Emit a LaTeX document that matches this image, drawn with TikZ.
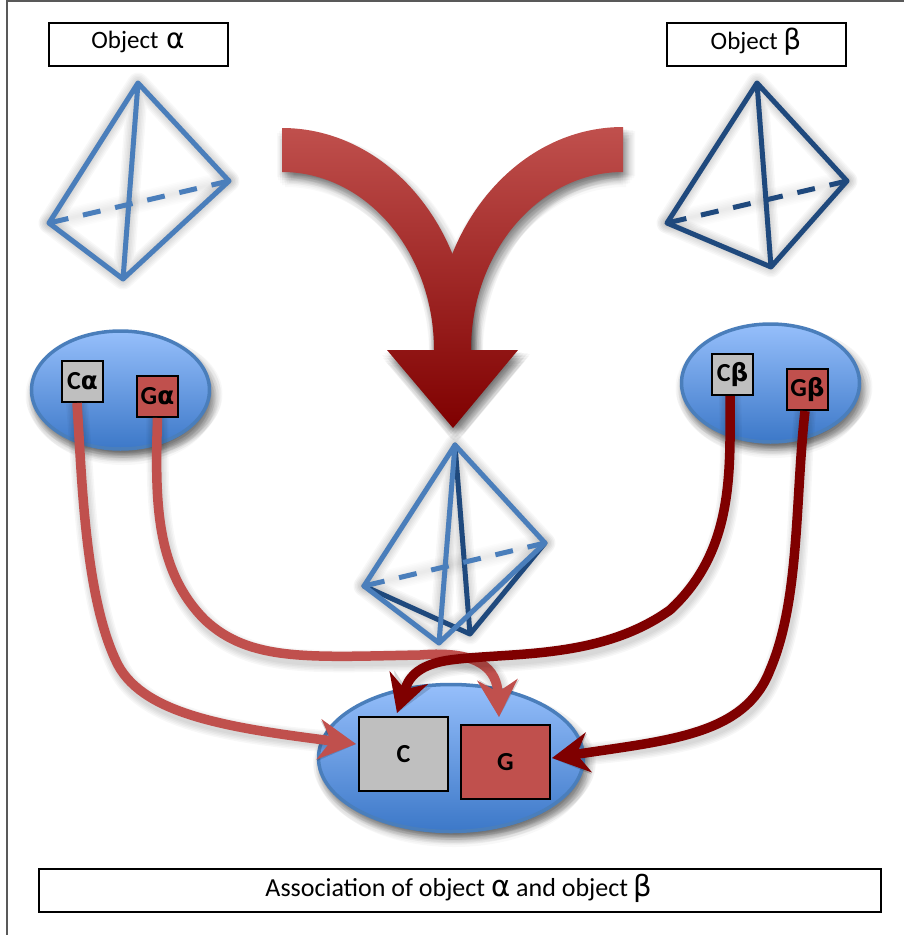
\documentclass[tikz,border=0pt]{standalone}
\usepackage{fontspec}
\setmainfont{Carlito}
\newfontfamily\gk{DejaVu Sans}[Scale=1.12]
\newfontfamily\gkb{DejaVu Sans}[Scale=0.95]
\usetikzlibrary{arrows.meta,shapes.geometric,calc}
\definecolor{tblue}{HTML}{4A7EBB}
\definecolor{tdark}{HTML}{1F497D}
\definecolor{cred}{HTML}{C0504D}
\definecolor{dred}{HTML}{7F0000}
\definecolor{egray}{HTML}{BFBFBF}
\definecolor{etop}{HTML}{96BFFB}
\definecolor{ebot}{HTML}{3C78C8}
% directional soft shadow: the same shape filled at a fan of small offsets
\newcommand{\softshadow}[2]{% opacity step, path
  \foreach \dx/\dy in {-5/5,-4/8,-3/3,-2/6,-2/11,-1/2,0/4,0/8,0/13,1/1,1/6,2/3,2/10,3/6,3/15,4/2,4/9,5/5,5/12,6/3,6/8,7/11,8/5,9/8,10/3,11/6,12/4}{
    \path[fill=black,opacity=#1,shift={(\dx,\dy)}] #2;
  }}
\newcommand{\softstroke}[2]{% opacity step, path
  \foreach \w in {3,6,...,21}{
    \path[draw=black,opacity=#1,line width=\w pt,line cap=round,line join=round,shift={(4,8)}] #2;
  }}
\newcommand{\softconn}[2]{%
  \foreach \w in {10,13,16,19,22}{
    \path[draw=black,opacity=.03,line width=\w pt,shift={(2,5)},-{Stealth[length=37pt,width=40pt,inset=12pt]}] #2;
  }
  \draw[#1,line width=9.5pt,-{Stealth[length=37pt,width=40pt,inset=12pt]}] #2;}
\tikzset{
  titlebox/.style={draw=black,line width=2pt,fill=white,inner sep=0pt,outer sep=0pt},
  titletext/.style={anchor=center,font=\fontsize{25}{30}\selectfont},
  blob/.style={ellipse,draw=tblue,line width=3.5pt,top color=etop,bottom color=ebot,inner sep=0pt,outer sep=0pt},
  cbox/.style={draw=black,line width=2pt,fill=egray,font=\bfseries\fontsize{26}{28}\selectfont,inner sep=0pt,outer sep=1pt},
  gbox/.style={draw=black,line width=2pt,fill=cred,font=\bfseries\fontsize{26}{28}\selectfont,inner sep=0pt,outer sep=1pt},
  tedge/.style={line width=5pt,line cap=round,line join=round},
  tdash/.style={line width=5pt,dash pattern=on 18pt off 15pt},
}
\begin{document}
\begin{tikzpicture}[x=1pt,y=-1pt]
\useasboundingbox (0,0) rectangle (904,935);
\fill[white] (0,0) rectangle (904,935);
\draw[line width=1.2pt,black!65] (904,1) -- (7,1) -- (7,935);

% title boxes
\node[titlebox,minimum width=179pt,minimum height=43pt] (oa) at (138,44) {};
\node[titletext] (oat) at (138,42) {Object\hspace{2pt} {\gk α}};
\node[titlebox,minimum width=179pt,minimum height=43pt] (ob) at (756,44) {};
\node[titletext] (obt) at (756,42) {Object {\gk β}};
\node[titlebox,minimum width=842pt,minimum height=43pt] (assoc) at (459.5,890) {};
\node[titletext,font=\fontsize{26}{30}\selectfont] (assoct) at (459,888) {Association of object {\gk α} and object {\gk β}};

% tetrahedron alpha
\coordinate (aA) at (138,83); \coordinate (aR) at (229,181);
\coordinate (aL) at (49,223); \coordinate (aB) at (123,279);
\softstroke{.028}{(aA)--(aL)--(aB)--(aR)--cycle (aA)--(aB)}
\softstroke{.013}{(aL)--(aR)}
\draw[tblue,tedge] (aA)--(aL)--(aB)--(aR)--cycle (aA)--(aB);
\draw[tblue,tdash] (aR)--(aL);

% tetrahedron beta
\coordinate (bA) at (757,83); \coordinate (bR) at (847,181);
\coordinate (bL) at (667,223); \coordinate (bB) at (771,267);
\softstroke{.028}{(bA)--(bL)--(bB)--(bR)--cycle (bA)--(bB)}
\softstroke{.013}{(bL)--(bR)}
\draw[tdark,tedge] (bA)--(bL)--(bB)--(bR)--cycle (bA)--(bB);
\draw[tdark,tdash] (bR)--(bL);

% merged tetrahedra
\coordinate (mA) at (455,445); \coordinate (mR) at (545,543);
\coordinate (mL) at (364,586); \coordinate (mB) at (439,643);
\coordinate (mD) at (470,634);
\softstroke{.028}{(mA)--(mL)--(mB)--(mR)--cycle (mA)--(mB) (mA)--(mD) (mL)--(mD)--(mR)}
\softstroke{.013}{(mL)--(mR)}
\draw[tdark,tedge] (mA)--(mD) (mL)--(mD)--(mR);
\draw[tblue,tedge] (mA)--(mL)--(mB)--(mR)--cycle (mA)--(mB);
\draw[tblue,tdash] (mR)--(mL);

% big merging arrow
\softshadow{.022}{(282,128) .. controls (386.4,128) and (471,227.4) .. (471,350) -- (434,350) .. controls (434,252) and (366,172) .. (282,172) -- cycle}
\softshadow{.022}{(623,127) .. controls (518.6,127) and (434,226) .. (434,350) -- (471,350) .. controls (471,252) and (539,172) .. (623,172) -- cycle}
\softshadow{.028}{(387,350) -- (518,350) -- (453,428) -- cycle}
\begin{scope}
  \clip (282,128) .. controls (386.4,128) and (471,227.4) .. (471,350) -- (434,350) .. controls (434,252) and (366,172) .. (282,172) -- cycle;
  \shade[top color=cred,bottom color=dred] (280,127) rectangle (625,428);
\end{scope}
\begin{scope}
  \clip (623,127) .. controls (518.6,127) and (434,226) .. (434,350) -- (471,350) .. controls (471,252) and (539,172) .. (623,172) -- cycle;
  \shade[top color=cred,bottom color=dred] (280,127) rectangle (625,428);
\end{scope}
\begin{scope}
  \clip (387,350) -- (518,350) -- (453,428) -- cycle;
  \shade[top color=cred,bottom color=dred] (280,127) rectangle (625,428);
\end{scope}

% ellipses
\softshadow{.028}{(120.5,390) ellipse [x radius=90,y radius=60]}
\softshadow{.028}{(770.5,383) ellipse [x radius=90,y radius=60]}
\softshadow{.028}{(451,758) ellipse [x radius=133,y radius=74]}
\node[blob,minimum width=178pt,minimum height=118pt] (ea) at (120.5,390) {};
\node[blob,minimum width=178pt,minimum height=118pt] (eb) at (770.5,383) {};
\node[blob,minimum width=265pt,minimum height=147pt] (ec) at (451,758) {};

% gene boxes
\node[cbox,minimum width=41pt,minimum height=41pt] (Ca) at (82.5,381.5) {C{\gkb α}};
\node[gbox,minimum width=41pt,minimum height=41pt] (Ga) at (157.5,396.5) {G{\gkb α}};
\node[cbox,minimum width=41pt,minimum height=41pt] (Cb) at (732.5,374.5) {C{\gkb β}};
\node[gbox,minimum width=41pt,minimum height=41pt] (Gb) at (807.5,389.5) {G{\gkb β}};
\node[cbox,minimum width=89pt,minimum height=74pt] (C) at (403.5,754) {C};
\node[gbox,minimum width=89pt,minimum height=74pt] (G) at (505.5,762) {G};

% connectors
\softconn{cred}{([xshift=-5.5pt]Ca.south) .. controls (82,480) and (85,600) .. (118,665) .. controls (145,715) and (230,728) .. ([xshift=-2pt,yshift=10pt]C.west)}
\softconn{cred}{(Ga.south) .. controls (155,500) and (155,570) .. (205,620) .. controls (250,662) and (310,657) .. (420,655) .. controls (480,650) and (497,670) .. ([xshift=-6.5pt,yshift=7pt]G.north)}
\softconn{dred}{([xshift=-2.5pt]Cb.south) .. controls (730,470) and (735,550) .. (670,610) .. controls (600,660) and (510,652) .. (450,660) .. controls (415,665) and (408,680) .. ([xshift=-6.5pt,yshift=3pt]C.north)}
\softconn{dred}{([xshift=-2.5pt]Gb.south) .. controls (795,500) and (800,600) .. (770,670) .. controls (745,735) and (670,740) .. ([xshift=1pt,yshift=4pt]G.east)}
\end{tikzpicture}
\end{document}
